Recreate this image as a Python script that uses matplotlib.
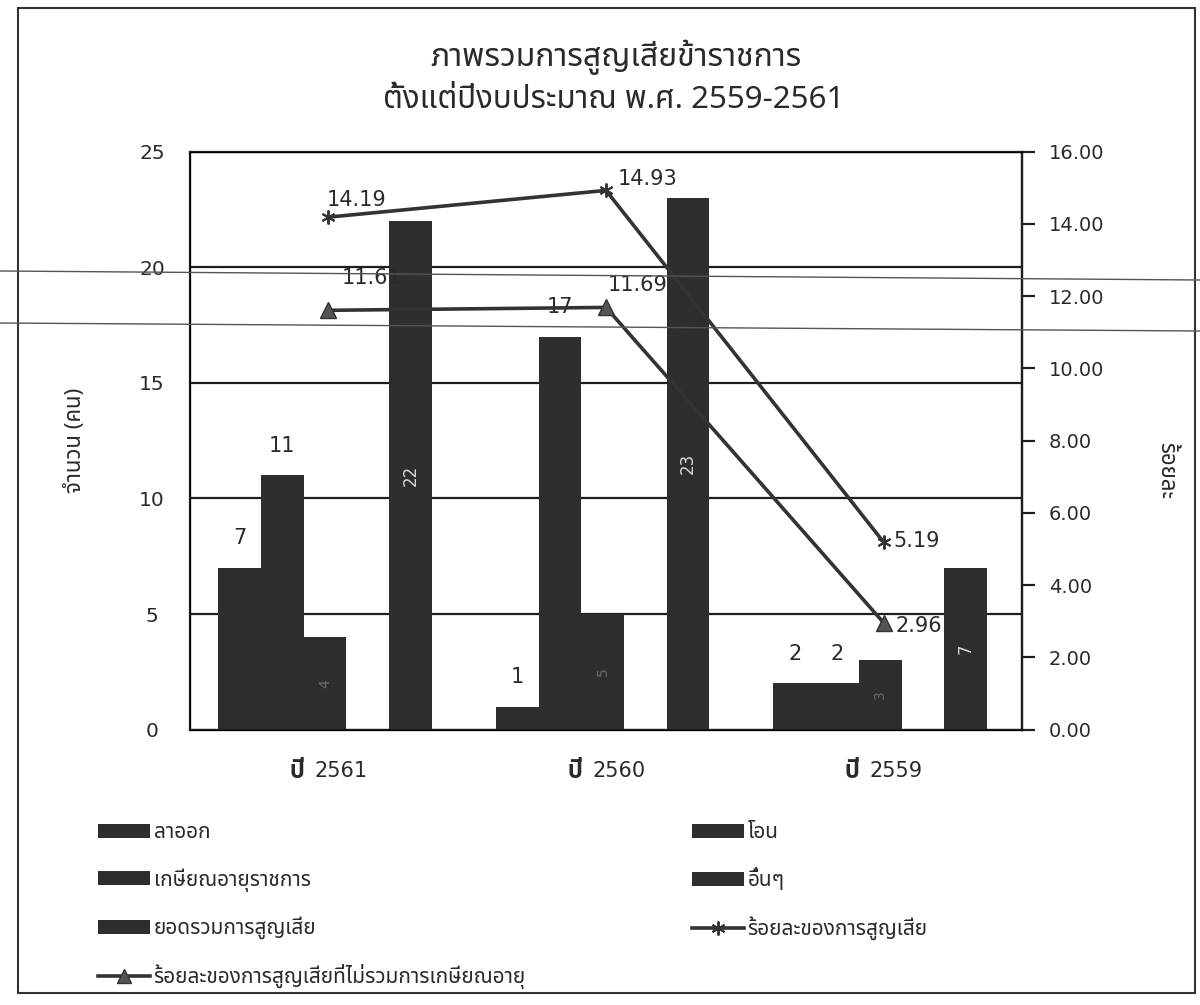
import numpy as np
import matplotlib
matplotlib.use('Agg')
import matplotlib.pyplot as plt
from matplotlib.patches import Patch, Rectangle
from matplotlib.lines import Line2D
from matplotlib.transforms import offset_copy

# latin digits from DejaVu, thai glyphs from a thai family
plt.rcParams['font.family'] = ['DejaVu Sans', 'Noto Sans Thai', 'IBM Plex Sans Thai', 'Anuphan']
thai_first = ['Noto Sans Thai', 'IBM Plex Sans Thai', 'DejaVu Sans']

years = ['2561', '2560', '2559']
resign = [7, 1, 2]
transfer = [11, 17, 2]
retire = [4, 5, 3]
other = [0, 0, 0]
total = [22, 23, 7]
loss_pct = [14.19, 14.93, 5.19]
loss_pct_no_retire = [11.61, 11.69, 2.96]

bar_names = ['ลาออก', 'โอน', 'เกษียณอายุราชการ', 'อื่นๆ', 'ยอดรวมการสูญเสีย']
line_names = ['ร้อยละของการสูญเสีย', 'ร้อยละของการสูญเสียที่ไม่รวมการเกษียณอายุ']

ink = '#1e1e1e'
bar_col = '#2e2e2e'
txt = '#2a2a2a'

fig = plt.figure(figsize=(12, 10.05), dpi=100)
ax = fig.add_axes([0.158, 0.274, 0.694, 0.575])
ax2 = ax.twinx()

x = np.arange(len(years))
w = 1 / 6.5
series = [resign, transfer, retire, other, total]
bars = []
for i, vals in enumerate(series):
    b = ax.bar(x + (i - 2) * w - 0.012, vals, w, color=bar_col, edgecolor='none', zorder=2)
    bars.append(b)

ax.bar_label(bars[0], padding=14, fontsize=15, color=txt)
ax.bar_label(bars[1], padding=14, fontsize=15, color=txt)
ax.bar_label(bars[2], label_type='center', rotation=90, fontsize=10, color='#6a6a6a')
ax.bar_label(bars[4], label_type='center', rotation=90, fontsize=12, color='#d8d8d8')

ax.set_xlim(-0.5, 2.5)
ax.set_ylim(0, 25)
ax.set_yticks([0, 5, 10, 15, 20, 25])
ax.yaxis.grid(True, color=ink, linewidth=1.6)
ax.set_axisbelow(True)
ax.tick_params(axis='y', length=0, pad=27, labelsize=14.5, labelcolor=txt)
for lbl in ax.get_yticklabels():
    lbl.set_horizontalalignment('center')
ax.set_xticks(x)
ax.set_xticklabels([])
ax.tick_params(axis='x', length=0)
for s in ax.spines.values():
    s.set_color(ink)
    s.set_linewidth(1.6)

ax2.set_ylim(0, 16)
ax2.set_yticks(np.arange(0, 17, 2))
ax2.set_yticklabels([f'{v:.2f}' for v in np.arange(0, 17, 2)])
ax2.tick_params(axis='y', length=9, width=1.6, color=ink, pad=10, labelsize=14, labelcolor=txt)
ax2.spines['right'].set_linewidth(1.6)
ax2.spines['right'].set_color(ink)

ax2.plot(x, loss_pct, color='#333333', linewidth=2.6, marker=(6, 2, 0),
         markersize=10, markeredgewidth=1.4, markeredgecolor='#333333', zorder=4)
ax2.plot(x, loss_pct_no_retire, color='#333333', linewidth=2.6, marker='^',
         markersize=11, markerfacecolor='#555555', markeredgecolor='#333333', zorder=4)

# value labels beside the line markers (offsets in points)
pct_offsets = [(20, 12), (30, 8), (24, 1)]
for xi, v, off in zip(x, loss_pct, pct_offsets):
    ax2.annotate(f'{v:.2f}', (xi, v), xytext=off, textcoords='offset points',
                 fontsize=15, color=txt, ha='center', va='center')
no_ret_offsets = [(31, 23), (23, 16), (25, -2)]
for xi, v, off in zip(x, loss_pct_no_retire, no_ret_offsets):
    ax2.annotate(f'{v:.2f}', (xi, v), xytext=off, textcoords='offset points',
                 fontsize=15, color=txt, ha='center', va='center', zorder=1)

# category labels: bold "ปี" followed by the year
base = ax.get_xaxis_transform()
for xi, yr in zip(x, years):
    ax.text(xi, -0.072, 'ปี', transform=offset_copy(base, fig, x=-24, y=0, units='dots'),
            ha='right', va='center', fontsize=17, fontweight='bold', color=txt,
            family=['IBM Plex Sans Thai', 'Noto Sans Thai', 'DejaVu Sans'])
    ax.text(xi, -0.072, yr, transform=offset_copy(base, fig, x=-14, y=0, units='dots'),
            ha='left', va='center', fontsize=15, color=txt)

fig.text(0.063, 0.562, 'จำนวน (คน)', rotation=90, ha='center', va='center', fontsize=16,
         color=txt, family=thai_first)
fig.text(0.971, 0.532, 'ร้อยละ', rotation=-90, ha='center', va='center', fontsize=16,
         color=txt, family=thai_first)

fig.text(0.513, 0.943, 'ภาพรวมการสูญเสียข้าราชการ', ha='center', va='center', fontsize=23,
         color=txt, family=thai_first)
fig.text(0.511, 0.900, 'ตั้งแต่ปีงบประมาณ พ.ศ. 2559-2561', ha='center', va='center', fontsize=22.5,
         color=txt, family=thai_first)

# legend in two columns
def bar_handle():
    return Patch(facecolor=bar_col, edgecolor='none')

left_handles = [bar_handle(), bar_handle(), bar_handle(),
                Line2D([], [], color='#333333', lw=2.6, marker='^', markersize=10,
                       markerfacecolor='#555555')]
left_labels = [bar_names[0], bar_names[2], bar_names[4], line_names[1]]
right_handles = [bar_handle(), bar_handle(),
                 Line2D([], [], color='#333333', lw=2.6, marker=(6, 2, 0), markersize=10,
                        markeredgewidth=1.4)]
right_labels = [bar_names[1], bar_names[3], line_names[0]]

leg_kw = dict(frameon=False, prop={'size': 15, 'family': thai_first}, handlelength=2.5,
              handleheight=0.65, handletextpad=0.15, labelspacing=1.2, borderaxespad=0,
              borderpad=0, labelcolor=txt)
leg1 = fig.legend(left_handles, left_labels, loc='upper left',
                  bbox_to_anchor=(0.082, 0.182), **leg_kw)
leg2 = fig.legend(right_handles, right_labels, loc='upper left',
                  bbox_to_anchor=(0.577, 0.182), **leg_kw)

# page frame and the two copier streaks
fig.add_artist(Rectangle((0.015, 0.012), 0.981, 0.980, transform=fig.transFigure,
                         fill=False, edgecolor='#333333', linewidth=1.5))
fig.add_artist(Line2D([0, 1], [1 - 271 / 1005, 1 - 280 / 1005], transform=fig.transFigure,
                      color='#555555', linewidth=1.0))
fig.add_artist(Line2D([0, 1], [1 - 323 / 1005, 1 - 331 / 1005], transform=fig.transFigure,
                      color='#555555', linewidth=1.0))

fig.savefig('out.png', dpi=100, facecolor='white')
